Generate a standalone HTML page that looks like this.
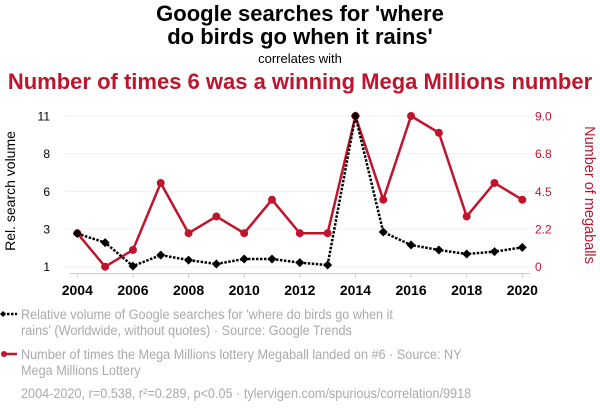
<!DOCTYPE html>
<html><head><meta charset="utf-8"><style>
body{margin:0;background:#fff;}
svg{display:block;font-family:"Liberation Sans",Arial,sans-serif;}
</style></head><body>
<svg id="chart" width="600" height="414" viewBox="0 0 600 414">
<text x="300" y="21" text-anchor="middle" font-size="22" font-weight="bold" fill="#000">Google searches for 'where</text>
<text x="300" y="44" text-anchor="middle" font-size="22" font-weight="bold" fill="#000">do birds go when it rains'</text>
<text x="300" y="63" text-anchor="middle" font-size="13" fill="#000">correlates with</text>
<text x="300" y="89" text-anchor="middle" font-size="22" font-weight="bold" fill="#c0142c">Number of times 6 was a winning Mega Millions number</text>
<g id="grid"></g>
<g id="axes"></g>
<g id="series"></g>
<text transform="translate(15,191) rotate(-90)" text-anchor="middle" font-size="14" fill="#000">Rel. search volume</text>
<text transform="translate(585,195) rotate(90)" text-anchor="middle" font-size="14.5" fill="#c0142c">Number of megaballs</text>
<g>
<line x1="3" y1="314" x2="17" y2="314" stroke="#000" stroke-width="2.5" stroke-dasharray="2.5,1.5"/>
<path d="M3 311 L6 314 L3 317 L0 314Z" fill="#000"/>
<g transform="translate(21,0) scale(0.905,1)">
<text x="0" y="319" font-size="14" fill="#aaa">Relative volume of Google searches for 'where do birds go when it</text>
<text x="0" y="335" font-size="14" fill="#aaa">rains' (Worldwide, without quotes) · Source: Google Trends</text>
</g>
</g>
<g>
<line x1="3" y1="354" x2="17" y2="354" stroke="#c0142c" stroke-width="2.5"/>
<circle cx="4" cy="354" r="3" fill="#c0142c"/>
<g transform="translate(21,0) scale(0.905,1)">
<text x="0" y="359" font-size="14" fill="#aaa">Number of times the Mega Millions lottery Megaball landed on #6 · Source: NY</text>
<text x="0" y="375" font-size="14" fill="#aaa">Mega Millions Lottery</text>
</g>
</g>
<g transform="translate(21,0) scale(0.905,1)">
<text x="0" y="398" font-size="14" fill="#aaa">2004-2020, r=0.538, r²=0.289, p&lt;0.05 · tylervigen.com/spurious/correlation/9918</text>
</g>
</svg>
<script>
const years=[2004,2005,2006,2007,2008,2009,2010,2011,2012,2013,2014,2015,2016,2017,2018,2019,2020];
const searches=[3.2,2.6,1.04,1.77,1.44,1.18,1.51,1.51,1.27,1.11,11,3.3,2.44,2.11,1.84,2.0,2.28];
const megaballs=[2,0,1,5,2,3,2,4,2,2,9,4,9,8,3,5,4];
const leftTickValues=[1,3.5,6,8.5,11];
const leftTickLabels=["1","3","6","8","11"];
const rightTickValues=[0,2.25,4.5,6.75,9];
const rightTickLabels=["0","2.2","4.5","6.8","9.0"];
const xTickYears=[2004,2006,2008,2010,2012,2014,2016,2018,2020];

const NS="http://www.w3.org/2000/svg";
const X0=77.3,X1=522.3,YT=116,YB=266.7;
const xs=y=>X0+(y-2004)/(2020-2004)*(X1-X0);
const yl=v=>YB-(v-1)/10*(YB-YT);
const yr=v=>YB-v/9*(YB-YT);
function mk(tag,attrs,parent){const e=document.createElementNS(NS,tag);for(const k in attrs)e.setAttribute(k,attrs[k]);parent.appendChild(e);return e;}
const grid=document.getElementById('grid'),axes=document.getElementById('axes'),ser=document.getElementById('series');
leftTickValues.forEach((v,i)=>{
  const g=mk('line',{x1:65,x2:535,y1:yl(v),y2:yl(v),stroke:'#f0f0f0','stroke-width':1},grid);
  
  
  const t=mk('text',{x:50,y:yl(v)+4.5,'text-anchor':'end','font-size':12,fill:'#000'},axes);
  t.textContent=leftTickLabels[i];
  
  
});
rightTickValues.forEach((v,i)=>{
  const t=mk('text',{x:535,y:yr(v)+4.5,'text-anchor':'start','font-size':12,fill:'#c0142c'},axes);
  t.textContent=rightTickLabels[i];
  
  
});
const ax=mk('line',{x1:70,x2:530,y1:273.5,y2:273.5,stroke:'#ccc','stroke-width':1},axes);


xTickYears.forEach(y=>{
  mk('line',{x1:xs(y),x2:xs(y),y1:273.5,y2:278,stroke:'#ccc'},axes);
  const t=mk('text',{x:xs(y),y:295,'text-anchor':'middle','font-size':14,'font-weight':'bold',fill:'#000'},axes);
  t.textContent=y;
  
  
});
const rp=mk('polyline',{points:years.map((y,i)=>xs(y)+','+yr(megaballs[i])).join(' '),fill:'none',stroke:'#c0142c','stroke-width':2.5,'stroke-linejoin':'round'},ser);


const bp=mk('polyline',{points:years.map((y,i)=>xs(y)+','+yl(searches[i])).join(' '),fill:'none',stroke:'#000','stroke-width':2.5,'stroke-dasharray':'2.5,1.5'},ser);


years.forEach((y,i)=>{
  const c=mk('circle',{cx:xs(y),cy:yr(megaballs[i]),r:4,fill:'#c0142c'},ser);
  
  
});
years.forEach((y,i)=>{
  const x=xs(y),yy=yl(searches[i]);
  const d=mk('path',{d:`M${x} ${yy-4.5} L${x+4.5} ${yy} L${x} ${yy+4.5} L${x-4.5} ${yy}Z`,fill:'#000'},ser);
  
  
});
</script>
</body></html>
